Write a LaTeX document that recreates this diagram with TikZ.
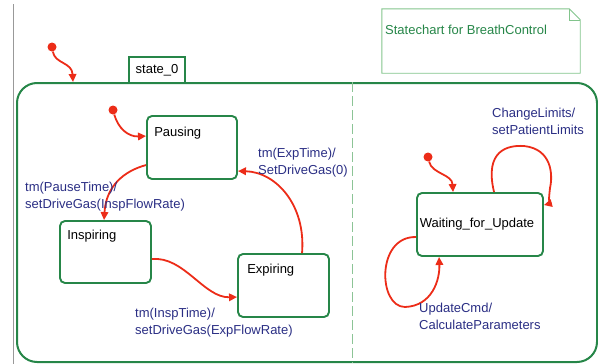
\documentclass[tikz,border=0pt]{standalone}
\usepackage{fontspec}
\setmainfont{Liberation Sans}
\usetikzlibrary{arrows.meta,calc}

\definecolor{stgreen}{RGB}{38,134,72}
\definecolor{notegreen}{RGB}{130,196,140}
\definecolor{divgreen}{RGB}{140,196,150}
\definecolor{trred}{RGB}{236,44,24}
\definecolor{lblblue}{RGB}{42,46,132}

\tikzset{
  txt/.style={font=\fontsize{13}{17}\selectfont},
  statebox/.style={draw=stgreen, line width=1.9pt, rounded corners=5pt, inner sep=0pt},
  statename/.style={txt, text=black, inner sep=0pt, anchor=base west},
  trans/.style={draw=trred, line width=1.8pt, -{Triangle[length=8pt,width=7.5pt]}},
  initdot/.style={circle, fill=trred, inner sep=0pt, minimum size=9pt},
  lbl/.style={txt, text=lblblue, align=left, anchor=north west, inner sep=0pt},
  divider/.style={draw=divgreen, line width=1pt, dash pattern=on 10pt off 4pt},
}

\begin{document}
\begin{tikzpicture}[x=1pt, y=-1pt]
\useasboundingbox (0,0) rectangle (598,364);

% page margin rule
\draw[gray!80, line width=0.8pt] (13.5,4) -- (13.5,364);

% comment note with folded corner
\node[minimum width=198pt, minimum height=64pt, inner sep=0pt] (note) at (481,41) {};
\draw[notegreen, line width=0.9pt]
  (note.north west) -- ([xshift=-11pt]note.north east) -- ([yshift=-11pt]note.north east)
  -- (note.south east) -- (note.south west) -- cycle;
\draw[notegreen, line width=0.6pt]
  ([xshift=-11pt]note.north east) -- ([xshift=-11pt,yshift=-11pt]note.north east)
  -- ([yshift=-11pt]note.north east);
\node[txt, text=stgreen, anchor=north west, inner sep=0pt] (notetext) at (385,25)
  {Statechart for BreathControl};

% composite state with name tab
\node[draw=stgreen, line width=1.5pt, minimum width=56pt, minimum height=26pt,
      inner sep=0pt, txt] (tab) at (157,70) {state\_0};
\node[draw=stgreen, line width=2pt, rounded corners=20pt, minimum width=580pt,
      minimum height=279pt, inner sep=0pt] (outer) at (307,222.5) {};

% orthogonal region separator
\draw[divider] (outer.north -| 352,0) -- (outer.south -| 352,0);

% simple states
\node[statebox, minimum width=90pt, minimum height=63pt,
      label={[statename, xshift=8pt, yshift=-21pt]north west:Pausing}]
      (pausing) at (192,147.5) {};
\node[statebox, minimum width=91pt, minimum height=62pt,
      label={[statename, xshift=8pt, yshift=-19pt]north west:Inspiring}]
      (inspiring) at (105.5,252) {};
\node[statebox, minimum width=91pt, minimum height=63pt,
      label={[statename, xshift=10pt, yshift=-20pt]north west:Expiring}]
      (expiring) at (283.5,285.5) {};
\node[statebox, minimum width=126pt, minimum height=63pt,
      label={[statename, anchor=base, xshift=-3pt, yshift=0.5pt]center:Waiting\_for\_Update}]
      (waiting) at (480,224.5) {};

% initial pseudostates
\node[initdot] (init0) at (52,47) {};
\node[initdot] (init1) at (113,110) {};
\node[initdot] (init2) at (428,157) {};

% default transitions
\draw[trans] (init0) .. controls (55,64) and (72,62) .. ([xshift=57pt]outer.north west);
\draw[trans] (init1) .. controls (118,128) and (128,137) .. ([yshift=-21pt]pausing.north west);
\draw[trans] (init2) .. controls (432,174) and (452,174) .. ([xshift=37pt]waiting.north west);

% breathing cycle
\draw[trans] ([yshift=-50pt]pausing.north west)
  .. controls (124,171) and (106,186) .. ([xshift=45pt]inspiring.north west);
\draw[trans] ([yshift=-39pt]inspiring.north east)
  .. controls (184,256) and (204,298) .. ([yshift=-44pt]expiring.north west);
\draw[trans] ([xshift=65pt]expiring.north west)
  .. controls (306,205) and (276,172) .. ([yshift=-56pt]pausing.north east);

% self transitions
\draw[trans] ([xshift=78pt]waiting.north west)
  .. controls (484,150) and (508,145) .. (524,146)
  .. controls (552,149) and (553,175) .. (550,188)
  .. controls (549,198) and (548,204) .. ([yshift=-13pt]waiting.north east);
\draw[trans] ([yshift=-45pt]waiting.north west)
  .. controls (376,236) and (378,307) .. (405,307)
  .. controls (432,306) and (440,280) .. ([xshift=23pt]waiting.south west);

% transition labels
\node[lbl] (lpause) at (25,182) {tm(PauseTime)/\\setDriveGas(InspFlowRate)};
\node[lbl] (lexp) at (258,148) {tm(ExpTime)/\\SetDriveGas(0)};
\node[lbl] (linsp) at (135,308) {tm(InspTime)/\\setDriveGas(ExpFlowRate)};
\node[lbl] (llimits) at (492,108) {ChangeLimits/\\setPatientLimits};
\node[lbl] (lupdate) at (419,303) {UpdateCmd/\\CalculateParameters};
\end{tikzpicture}
\end{document}
